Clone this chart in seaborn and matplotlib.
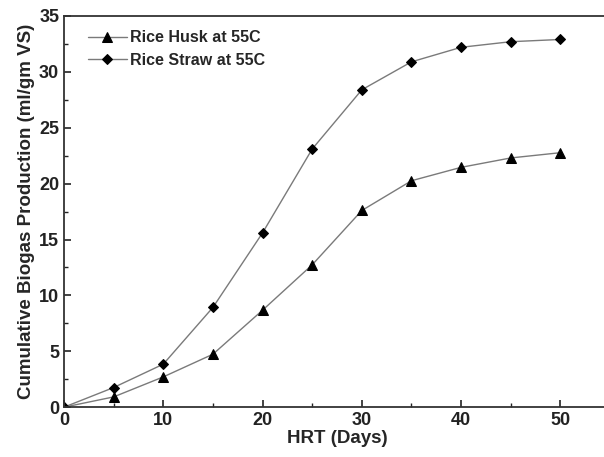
import matplotlib
matplotlib.use("Agg")
import matplotlib.pyplot as plt
import seaborn as sns
import pandas as pd
from matplotlib.ticker import MultipleLocator

sns.set_style("ticks")
plt.rcParams["font.family"] = ["Liberation Sans", "DejaVu Sans"]
plt.rcParams["font.weight"] = "bold"

# --------------------------------------------------
# Data
# --------------------------------------------------

hrt_days = [0, 5, 10, 15, 20, 25, 30, 35, 40, 45, 50]

rice_husk = [0, 0.92, 2.71, 4.74, 8.68, 12.74, 17.6, 20.26, 21.46, 22.3, 22.77]

rice_straw = [0, 1.76, 3.85, 8.93, 15.6, 23.1, 28.4, 30.9, 32.2, 32.7, 32.9]

series_names = ["Rice Husk at 55C", "Rice Straw at 55C"]

df = pd.DataFrame({
    "HRT": hrt_days * 2,
    "value": rice_husk + rice_straw,
    "series": [series_names[0]] * len(hrt_days) + [series_names[1]] * len(hrt_days),
})

# --------------------------------------------------
# Plot
# --------------------------------------------------

fig = plt.figure(figsize=(6.04, 4.57), dpi=100)
ax = fig.add_axes([0.106, 0.109, 0.904, 0.856])

sns.lineplot(
    data=df,
    x="HRT",
    y="value",
    style="series",
    markers={series_names[0]: "^", series_names[1]: "D"},
    dashes=False,
    color="#7a7a7a",
    linewidth=1.0,
    ax=ax,
)

# marker sizes differ per shape
marker_sizes = [7, 5.5]
for line, size in zip(ax.get_lines(), marker_sizes):
    line.set_markersize(size)
    line.set_markerfacecolor("black")
    line.set_markeredgecolor("black")

ax.set_xlim(0, 55)
ax.set_ylim(0, 35)
ax.xaxis.set_major_locator(MultipleLocator(10))
ax.xaxis.set_minor_locator(MultipleLocator(5))
ax.yaxis.set_major_locator(MultipleLocator(5))
ax.yaxis.set_minor_locator(MultipleLocator(2.5))
ax.tick_params(which="major", direction="in", length=5, width=1.2, labelsize=13, colors="#222222")
ax.tick_params(which="minor", direction="in", length=3, width=1.0, colors="#222222")
for label in ax.get_xticklabels() + ax.get_yticklabels():
    label.set_fontweight("bold")

for spine in ax.spines.values():
    spine.set_linewidth(1.3)
    spine.set_color("#333333")

ax.set_xlabel("HRT (Days)", fontsize=13.5, fontweight="bold", labelpad=1)
ax.set_ylabel("Cumulative Biogas Production (ml/gm VS)", fontsize=13.5, fontweight="bold", labelpad=3)

leg = ax.legend(
    loc="upper left",
    frameon=False,
    fontsize=11.5,
    handlelength=2.4,
    handletextpad=0.2,
    labelspacing=0.45,
    borderaxespad=0.5,
    bbox_to_anchor=(0.018, 1.0),
)
for text in leg.get_texts():
    text.set_fontweight("bold")
for handle, size in zip(leg.get_lines(), marker_sizes):
    handle.set_markersize(size)
    handle.set_markerfacecolor("black")
    handle.set_markeredgecolor("black")

plt.savefig("out.png", dpi=100)
plt.close()
